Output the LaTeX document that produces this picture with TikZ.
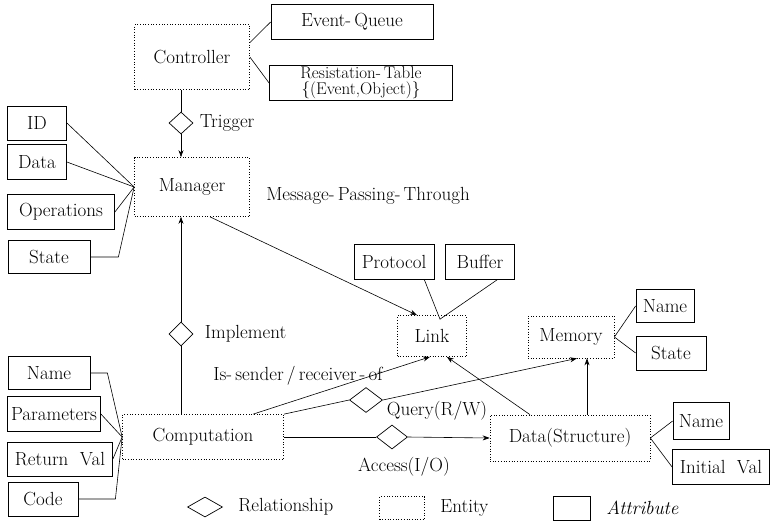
\documentclass[tikz,border=0pt]{standalone}
\usetikzlibrary{arrows.meta,positioning,calc,shapes.geometric}

\begin{document}
\begin{tikzpicture}[x=1pt,y=-1pt,
    font=\fontsize{19}{21}\selectfont,
    entity/.style={draw,dotted,line width=0.7pt,inner sep=0pt},
    attr/.style={draw,line width=0.8pt,inner sep=0pt},
    rel/.style={draw,diamond,line width=0.7pt,inner sep=0pt},
    conn/.style={line width=0.6pt},
    >={Stealth[length=7pt,width=5pt]}]
  \useasboundingbox (0,0) rectangle (771,520);
  % entities
  \node[entity,minimum width=115pt,minimum height=65pt] (ctrl) at (192,57) {Controller};
  \node[entity,minimum width=115pt,minimum height=59pt] (mgr) at (192,187) {Manager};
  \node[entity,minimum width=161pt,minimum height=45pt] (comp) at (203,437) {Computation};
  \node[entity,minimum width=69pt,minimum height=41pt] (link) at (432,336) {Link};
  \node[entity,minimum width=86pt,minimum height=42pt] (mem) at (571,337) {Memory};
  \node[entity,minimum width=160pt,minimum height=46pt] (data) at (570,438) {Data(Structure)};
  % attributes
  \node[attr,minimum width=162pt,minimum height=35pt] (evq) at (352,22) {Event-\,Queue};
  \node[attr,minimum width=183pt,minimum height=35pt,align=center,
        font=\fontsize{17}{16}\selectfont] (rtab) at (361,83) {Resistation-\,Table\\\{(Event,Object)\}};
  \node[attr,minimum width=59pt,minimum height=34pt] (mid) at (37,123) {ID};
  \node[attr,minimum width=59pt,minimum height=35pt] (mdat) at (37,162) {Data};
  \node[attr,minimum width=107pt,minimum height=35pt] (mops) at (61,212) {Operations};
  \node[attr,minimum width=82pt,minimum height=33pt] (mst) at (49,257) {State};
  \node[attr,minimum width=80pt,minimum height=35pt] (prot) at (394,262) {Protocol};
  \node[attr,minimum width=69pt,minimum height=35pt] (buf) at (480,262) {Buffer};
  \node[attr,minimum width=58pt,minimum height=33pt] (memname) at (665,306) {Name};
  \node[attr,minimum width=70pt,minimum height=34pt] (memst) at (671,353) {State};
  \node[attr,minimum width=82pt,minimum height=33pt] (cname) at (49,373) {Name};
  \node[attr,minimum width=93pt,minimum height=35pt] (cpar) at (54,414) {Parameters};
  \node[attr,minimum width=105pt,minimum height=34pt] (cret) at (60,459) {Return\ \ Val};
  \node[attr,minimum width=70pt,minimum height=34pt] (ccode) at (43,499) {Code};
  \node[attr,minimum width=56pt,minimum height=37pt] (dname) at (701,421) {Name};
  \node[attr,minimum width=97pt,minimum height=35pt] (dinit) at (721,467) {Initial\ \ Val};
  % relationships
  \node[rel,minimum width=24pt,minimum height=22pt] (trig) at (181,123) {};
  \node[right=3pt of trig] (trigtxt) {Trigger};
  \node[rel,minimum width=24pt,minimum height=24pt] (impl) at (181,334) {};
  \node[right=8pt of impl] (impltxt) {Implement};
  \node[rel,minimum width=33pt,minimum height=25pt] (query) at (366,400) {};
  \node (querytxt) at (437,411) {Query(R/W)};
  \node[rel,minimum width=31pt,minimum height=24pt] (access) at (392,437) {};
  \node (accesstxt) at (404,467) {Access(I/O)};
  \node (msgtxt) at (368,196) {Message-\,Passing-\,Through};
  \node (sendtxt) at (298,376) {Is-\,sender\,/\,receiver\,-\,of};
  % controller
  \draw[conn] (ctrl.14) -- (evq.west);
  \draw[conn] (ctrl.east) -- (rtab.west);
  \draw[conn] (trig.north |- ctrl.south) -- (trig.north);
  \draw[conn,->] (trig.south) -- (trig.south |- mgr.north);
  % manager
  \draw[conn] (mid.east) -- (mgr.west);
  \draw[conn] (mdat.east) -- (mgr.west);
  \draw[conn] (mops.east) -- (mgr.west);
  \draw[conn] (mst.east) -- ++(28,0) -- (mgr.west);
  \draw[conn,->] ($(mgr.south)+(18,0)$) -- ($(link.north)+(-15,0)$);
  % link
  \coordinate (lk) at ($(link.north)+(8,4)$);
  \draw[conn] ($(prot.south east)+(-10,0)$) -- (lk) -- ($(buf.south)+(17,0)$);
  % computation
  \draw[conn] (impl.south) -- (impl.south |- comp.north);
  \draw[conn,->] (impl.north) -- (impl.north |- mgr.south);
  \draw[conn,->] ($(comp.north)+(50,0)$) -- ($(link.south)+(-2,0)$);
  \draw[conn] (comp.north east) -- (query.west);
  \draw[conn,->] (query.east) -- ($(mem.south)+(6,0)$);
  \draw[conn] (comp.east) -- (access.west);
  \draw[conn,->] (access.east) -- (data.west);
  \draw[conn] (cname.east) -- ++(17,0) -- (comp.west);
  \draw[conn] (cpar.east) -- (comp.west);
  \draw[conn] (cret.east) -- (comp.west);
  \draw[conn] (ccode.east) -- ++(37,0) -- (comp.west);
  % data
  \coordinate (dm) at ($(data.north)+(17,0)$);
  \draw[conn,->] ($(data.north)+(-40,0)$) -- ($(link.south east)+(-20,0)$);
  \draw[conn,->] (dm) -- (dm |- mem.south);
  \draw[conn] (data.east) -- (dname.west);
  \draw[conn] (data.east) -- (dinit.west);
  % memory
  \draw[conn] (mem.east) -- (memname.west);
  \draw[conn] (mem.east) -- (memst.west);
  % legend
  \node[rel,minimum width=35pt,minimum height=20pt] (legrel) at (205,507) {};
  \node[right=12pt of legrel] (legreltxt) {Relationship};
  \node[entity,minimum width=45pt,minimum height=23pt] (legent) at (402,508) {};
  \node[right=12pt of legent] (legenttxt) {Entity};
  \node[attr,minimum width=37pt,minimum height=24pt] (legatt) at (572,508) {};
  \node[right=12pt of legatt,font=\fontsize{19}{21}\itshape] (legatttxt) {Attribute};
\end{tikzpicture}
\end{document}
